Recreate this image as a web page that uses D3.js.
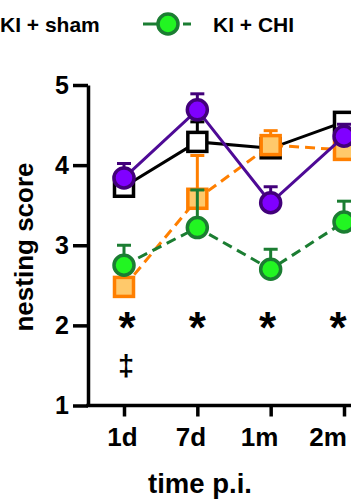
<!DOCTYPE html>
<html>
<head>
<style>
  body { margin: 0; background: #fff; }
  text { font-family: "Liberation Sans", Arial, sans-serif; font-weight: bold; }
</style>
</head>
<body>
<script src="https://cdn.jsdelivr.net/npm/d3@7"></script>
<script>
// *** DATA ***
var categories = ["1d", "7d", "1m", "2m"];
var yTicks = [1, 2, 3, 4, 5];

var shamMean  = [3.73, 4.29, 4.21, 4.54];   // KI + sham (open squares)
var shamErr   = [0.10, 0.25, 0.10, 0.10];
var chiMean   = [2.75, 3.22, 2.70, 3.29];   // KI + CHI (green circles)
var chiErr    = [0.25, 0.47, 0.25, 0.26];
var orMean    = [2.48, 3.58, 4.25, 4.19];   // orange squares
var orErr     = [0.20, 0.54, 0.18, 0.15];
var puMean    = [3.84, 4.69, 3.53, 4.36];   // purple circles
var puErr     = [0.18, 0.20, 0.20, 0.15];

var starLabels = ["*", "*", "*", "*"];
var daggerLabels = ["\u2021", "", "", ""];

// *** SETUP ***
var W = 351, H = 500;
var axisX = 88;

var svg = d3.select("body").append("svg")
  .attr("width", W).attr("height", H);

var y = d3.scaleLinear().domain([1, 5]).range([405.5, 85]);
var x = d3.scalePoint().domain(categories).range([124, 344]);
// labels and marks sit on a slightly tighter grid than the ticks
var xLab = d3.scalePoint().domain(categories).range([122.5, 328]);
var xSig = d3.scalePoint().domain(categories).range([127, 338]);

// series definitions (styles only)
var series = [
  { mean: shamMean, err: shamErr, shape: "square", stroke: "#000", fill: "#fff", line: "#000", dash: null },
  { mean: orMean, err: orErr, shape: "square", stroke: "#ff7f00", fill: "#ffc96b", line: "#ff7f00", dash: "10,6" },
  { mean: chiMean, err: chiErr, shape: "circle", stroke: "#1b7d32", fill: "#22f522", line: "#1b7d32", dash: "10,6" },
  { mean: puMean, err: puErr, shape: "circle", stroke: "#42007a", fill: "#8000ff", line: "#4e0a96", dash: null }
];

// *** AXES ***
var yAxis = d3.axisLeft(y).tickValues(yTicks).tickSize(15).tickSizeOuter(0).tickPadding(4)
  .tickFormat(d3.format("d"));
var gy = svg.append("g").attr("transform", "translate(" + axisX + ",0)").call(yAxis);
gy.select(".domain").attr("stroke", "#000").attr("stroke-width", 3.5);
gy.selectAll(".tick line").attr("stroke", "#000").attr("stroke-width", 3.5);
gy.selectAll(".tick text").attr("font-size", 25).attr("fill", "#000");

var xAxis = d3.axisBottom(x).tickSize(11).tickSizeOuter(0).tickFormat("");
var gx = svg.append("g").attr("transform", "translate(0," + y(1) + ")").call(xAxis);
gx.select(".domain").remove();
gx.selectAll(".tick line").attr("stroke", "#000").attr("stroke-width", 3.5);
svg.append("line")
  .attr("x1", axisX - 1.75).attr("x2", W)
  .attr("y1", y(1)).attr("y2", y(1))
  .attr("stroke", "#000").attr("stroke-width", 3.5);

svg.selectAll("text.xlab").data(categories).enter().append("text")
  .attr("class", "xlab")
  .attr("x", function(d) { return xLab(d); })
  .attr("y", 446)
  .attr("text-anchor", "middle")
  .attr("font-size", 26)
  .text(function(d) { return d; });

// axis titles
svg.append("text")
  .attr("transform", "translate(33," + 247 + ") rotate(-90)")
  .attr("text-anchor", "middle")
  .attr("font-size", 26)
  .text("nesting score");

svg.append("text")
  .attr("x", 200).attr("y", 493)
  .attr("text-anchor", "middle")
  .attr("font-size", 27.5)
  .text("time p.i.");

// *** SERIES ***
var line = d3.line()
  .x(function(d, i) { return x(categories[i]); })
  .y(function(d) { return y(d); });

series.forEach(function(s) {
  var g = svg.append("g");
  // error bars (upper)
  s.mean.forEach(function(m, i) {
    var cx = x(categories[i]);
    g.append("line")
      .attr("x1", cx).attr("x2", cx)
      .attr("y1", y(m)).attr("y2", y(m + s.err[i]))
      .attr("stroke", s.stroke).attr("stroke-width", 3);
    g.append("line")
      .attr("x1", cx - 7).attr("x2", cx + 7)
      .attr("y1", y(m + s.err[i])).attr("y2", y(m + s.err[i]))
      .attr("stroke", s.stroke).attr("stroke-width", 3);
  });
  g.append("path")
    .datum(s.mean)
    .attr("d", line)
    .attr("fill", "none")
    .attr("stroke", s.line)
    .attr("stroke-width", 3)
    .attr("stroke-dasharray", s.dash);
  s.mean.forEach(function(m, i) {
    var cx = x(categories[i]), cy = y(m);
    if (s.shape === "circle") {
      g.append("circle").attr("cx", cx).attr("cy", cy).attr("r", 10)
        .attr("fill", s.fill).attr("stroke", s.stroke).attr("stroke-width", 3.5);
    } else {
      g.append("rect").attr("x", cx - 9.5).attr("y", cy - 9.5)
        .attr("width", 19).attr("height", 19)
        .attr("fill", s.fill).attr("stroke", s.stroke).attr("stroke-width", 3.5);
    }
  });
});

// significance marks
svg.selectAll("text.star").data(starLabels).enter().append("text")
  .attr("class", "star")
  .attr("x", function(d, i) { return xSig(categories[i]); })
  .attr("y", 343)
  .attr("text-anchor", "middle")
  .attr("font-size", 44)
  .text(function(d) { return d; });

svg.selectAll("text.dag").data(daggerLabels).enter().append("text")
  .attr("class", "dag")
  .attr("x", function(d, i) { return xSig(categories[i]) - 1; })
  .attr("y", 376)
  .attr("text-anchor", "middle")
  .attr("font-size", 29)
  .text(function(d) { return d; });

// *** LEGEND ***
svg.append("text").attr("x", 0).attr("y", 32).attr("font-size", 21).text("KI + sham");
svg.append("line").attr("x1", 143).attr("x2", 191).attr("y1", 24).attr("y2", 24)
  .attr("stroke", "#1b7d32").attr("stroke-width", 3).attr("stroke-dasharray", "14,26");
svg.append("circle").attr("cx", 168).attr("cy", 24).attr("r", 10)
  .attr("fill", "#22f522").attr("stroke", "#1b7d32").attr("stroke-width", 3.5);
svg.append("text").attr("x", 213).attr("y", 32).attr("font-size", 21).text("KI + CHI");
</script>
</body>
</html>
